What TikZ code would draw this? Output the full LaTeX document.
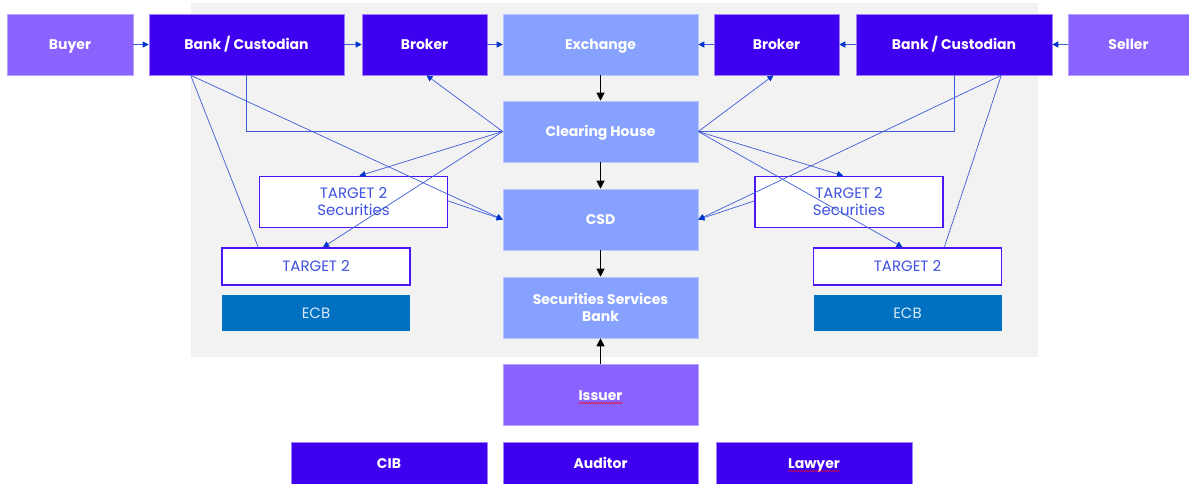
\documentclass[tikz,border=0pt]{standalone}
\usepackage{fontspec}
\setmainfont{Poppins}
\usetikzlibrary{arrows.meta,positioning,decorations.pathmorphing}
\definecolor{partyviolet}{HTML}{8A63FF}
\definecolor{agentblue}{HTML}{4000F0}
\definecolor{infrablue}{HTML}{87A1FF}
\definecolor{ecbblue}{HTML}{0070C0}
\definecolor{linkblue}{HTML}{3D5BD9}
\definecolor{tipblue}{HTML}{0033CC}
\definecolor{panelgray}{HTML}{F2F2F2}
\definecolor{tframe}{HTML}{4B14F5}
\definecolor{ttext}{HTML}{3F51E0}
\newlength{\custwidth}

\begin{document}
\begin{tikzpicture}[x=1pt,y=-1pt]
  \tikzstyle{box}=[minimum height=61pt, inner sep=0pt, line width=0.6pt,
    text=white, text height=10pt, text depth=0pt,
    font=\bfseries\fontsize{14}{17}\selectfont]
  \tikzstyle{party}=[box, fill=partyviolet, draw=partyviolet!60!white]
  \tikzstyle{agent}=[box, fill=agentblue, draw=agentblue!50!white]
  \tikzstyle{infra}=[box, fill=infrablue, draw=infrablue!60!white, minimum width=195pt]
  \tikzstyle{word}=[inner sep=0pt, text=white, text height=10pt, text depth=0pt,
    font=\bfseries\fontsize{14}{17}\selectfont]
  \tikzstyle{tbox}=[minimum width=188pt, inner sep=0pt, fill=white, draw=tframe,
    line width=1.6pt, text=ttext, align=center, font=\fontsize{15}{17}\selectfont]
  \tikzstyle{ecb}=[minimum width=188pt, minimum height=36pt, inner sep=0pt,
    fill=ecbblue, text=white!85!ecbblue, font=\fontsize{15}{17}\selectfont]
  \tikzstyle{link}=[draw=linkblue, line width=0.7pt,
    -{Triangle[length=6pt,width=6pt,color=tipblue]}]
  \tikzstyle{wire}=[draw=linkblue, line width=0.7pt]
  \tikzstyle{flow}=[draw=black, line width=0.8pt, -{Triangle[length=8pt,width=8pt]}]
  \tikzstyle{squiggle}=[draw=red, line width=0.4pt, decorate,
    decoration={snake, amplitude=0.7pt, segment length=2.5pt}]
  \settowidth{\custwidth}{\bfseries\fontsize{14}{17}\selectfont Custodian}
  \useasboundingbox (0,0) rectangle (1189,484);
  \fill[panelgray] (191,3) rectangle (1038,357);

  % top row
  \node[party, minimum width=126pt] (buyer) at (70,44.5) {Buyer};
  \node[agent, minimum width=195pt] (bankL) at (246.5,44.5) {};
  \node[word] (bankLtxt) at (bankL) {Bank / Custodian};
  \node[agent, minimum width=125pt] (brokerL) at (424.5,44.5) {Broker};
  \node[infra] (exch) at (600.5,44.5) {Exchange};
  \node[agent, minimum width=125pt] (brokerR) at (776.5,44.5) {Broker};
  \node[agent, minimum width=196pt] (bankR) at (954,44.5) {};
  \node[word] (bankRtxt) at (bankR) {Bank / Custodian};
  \node[party, minimum width=121pt] (seller) at (1128.5,44.5) {Seller};

  % middle column
  \node[infra] (clear) at (600.5,131.5) {Clearing House};
  \node[infra] (csd) at (600.5,219.5) {CSD};
  \node[infra, align=center, text height={}, text depth={}] (ssb) at (600.5,307.5)
    {Securities Services\\Bank};
  \node[party, minimum width=195pt] (issuer) at (600.5,395) {};
  \node[word] (issuertxt) at (issuer) {Issuer};

  % bottom row
  \node[agent, minimum width=196pt, minimum height=42pt] (cib) at (389,463) {CIB};
  \node[agent, minimum width=195pt, minimum height=42pt] (auditor) at (600.5,463) {Auditor};
  \node[agent, minimum width=196pt, minimum height=42pt] (lawyer) at (814,463) {};
  \node[word] (lawyertxt) at (lawyer) {Lawyer};

  % spell check marks
  \draw[squiggle] ([yshift=-3pt]bankLtxt.base east) -- ++(-\custwidth,0);
  \draw[squiggle] ([yshift=-3pt]bankRtxt.base east) -- ++(-\custwidth,0);
  \draw[squiggle] ([yshift=-3pt]issuertxt.base west) -- ([yshift=-3pt]issuertxt.base east);
  \draw[squiggle] ([yshift=-3pt]lawyertxt.base west) -- ([yshift=-3pt]lawyertxt.base east);

  % settlement side boxes
  \node[tbox, minimum height=51pt] (t2sL) at (353.5,202) {TARGET 2\\Securities};
  \node[tbox, minimum height=37pt] (t2L) at (316,266.5) {TARGET 2};
  \node[ecb] (ecbL) at (316,313) {ECB};
  \node[tbox, minimum height=51pt] (t2sR) at (849,202) {TARGET 2\\Securities};
  \node[tbox, minimum height=37pt] (t2R) at (907.5,266.5) {TARGET 2};
  \node[ecb] (ecbR) at (907.5,313) {ECB};

  % order flow
  \draw[link] (buyer) -- (bankL);
  \draw[link] (bankL) -- (brokerL);
  \draw[link] (brokerL) -- (exch);
  \draw[link] (seller) -- (bankR);
  \draw[link] (bankR) -- (brokerR);
  \draw[link] (brokerR) -- (exch);
  \draw[flow] (exch) -- (clear);
  \draw[flow] (clear) -- (csd);
  \draw[flow] (csd) -- (ssb);
  \draw[flow] (issuer) -- (ssb);

  % clearing house links
  \draw[link] (clear.west) -- ([xshift=2pt]brokerL.south);
  \draw[link] (clear.west) -- ([xshift=6pt]t2sL.north);
  \draw[link] (clear.west) -- ([xshift=7pt]t2L.north);
  \draw[wire] (clear.west) -| (bankL.south);
  \draw[link] (clear.east) -- ([xshift=-3pt]brokerR.south);
  \draw[link] (clear.east) -- ([xshift=-6pt]t2sR.north);
  \draw[link] (clear.east) -- ([xshift=-5pt]t2R.north);
  \draw[wire] (clear.east) -| (bankR.south);

  % custodian links
  \draw[wire] ([xshift=42pt]bankL.south west) -- ([xshift=37pt]t2L.north west);
  \draw[link] ([xshift=42pt]bankL.south west) -- (csd.west);
  \draw[link] ([yshift=1pt]t2sL.east) -- (csd.west);
  \draw[wire] ([xshift=-51pt]bankR.south east) -- ([xshift=-58pt]t2R.north east);
  \draw[link] ([xshift=-51pt]bankR.south east) -- (csd.east);
  \draw[link] ([yshift=1pt]t2sR.west) -- (csd.east);
\end{tikzpicture}
\end{document}
